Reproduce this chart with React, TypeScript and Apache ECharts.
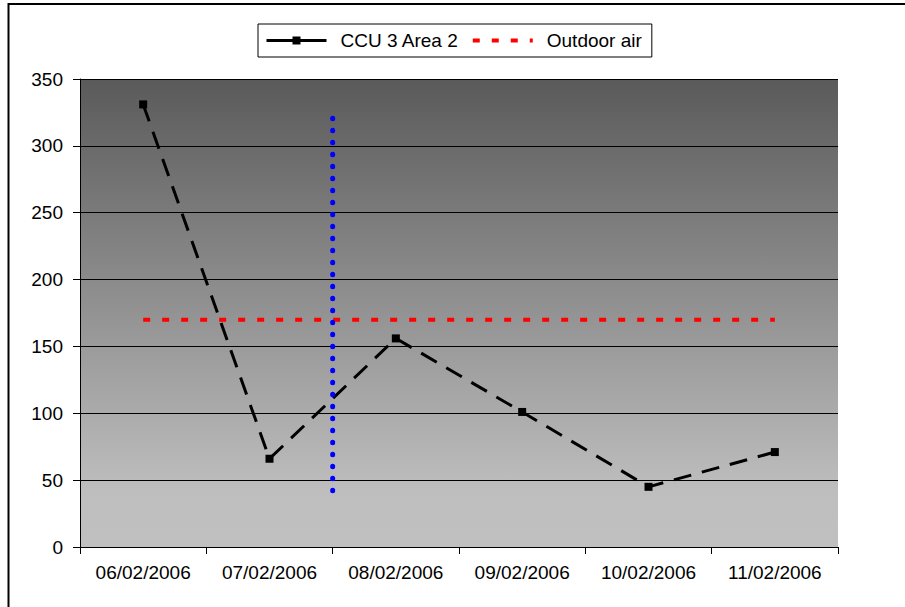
import React, { useEffect, useRef } from "react";
import * as echarts from "echarts";

const categories = ["06/02/2006", "07/02/2006", "08/02/2006", "09/02/2006", "10/02/2006", "11/02/2006"];
const ccuValues = [331, 66, 156, 101, 45, 71];
const outdoorValues = [170, 170, 170, 170, 170, 170];
const markerLine = [[2, 42], [2, 323]];
const yTicks = { min: 0, max: 350, interval: 50 };

const FONT = "Liberation Sans, Arial, sans-serif";

export default function App() {
  const ref = useRef<HTMLDivElement>(null);
  useEffect(() => {
    if (!ref.current) return;
    const chart = echarts.init(ref.current, undefined, { renderer: "svg" });
    chart.setOption({
      animation: false,
      backgroundColor: "#ffffff",
      textStyle: { fontFamily: FONT },
      graphic: [
        {
          type: "rect",
          shape: { x: 8.5, y: 4, width: 2000, height: 2000 },
          style: { fill: "none", stroke: "#000", lineWidth: 2 },
          silent: true,
        },
      ],
      legend: {
        left: 258,
        top: 24,
        orient: "horizontal",
        backgroundColor: "#fff",
        borderColor: "#000",
        borderWidth: 1,
        padding: [7, 10, 7, 7],
        itemWidth: 60,
        itemHeight: 10,
        itemGap: 12,
        textStyle: { fontSize: 19, color: "#000", fontFamily: FONT, padding: [0, 0, 0, 9] },
        data: [
          {
            name: "CCU 3 Area 2",
            lineStyle: { type: "solid", width: 3, color: "#000" },
            itemStyle: { color: "#000" },
          },
          {
            name: "Outdoor air",
            lineStyle: { type: [7, 12], width: 4, color: "#ff0000", cap: "butt" },
            itemStyle: { color: "rgba(0,0,0,0)", borderWidth: 0, borderColor: "rgba(0,0,0,0)" },
          },
        ],
      },
      grid: {
        left: 80,
        right: 67,
        top: 79,
        bottom: 60,
        show: true,
        borderWidth: 0,
        backgroundColor: {
          type: "linear",
          x: 0,
          y: 0,
          x2: 0,
          y2: 1,
          colorStops: [
            { offset: 0, color: "#5a5a5a" },
            { offset: 0.88, color: "#bebebe" },
            { offset: 1, color: "#c0c0c0" },
          ],
        },
      },
      xAxis: [
        {
          type: "category",
          data: categories,
          boundaryGap: true,
          axisLine: { show: true, lineStyle: { color: "#000", width: 1 } },
          axisTick: { show: true, length: 7, alignWithLabel: false, lineStyle: { color: "#000" } },
          axisLabel: { fontSize: 19, color: "#000", margin: 16, fontFamily: FONT, interval: 0 },
          splitLine: { show: false },
        },
        {
          type: "value",
          min: 0,
          max: 6,
          show: false,
          splitLine: { show: false },
        },
      ],
      yAxis: {
        type: "value",
        min: yTicks.min,
        max: yTicks.max,
        interval: yTicks.interval,
        axisLine: { show: true, lineStyle: { color: "#000", width: 1 } },
        axisTick: { show: true, length: 7, lineStyle: { color: "#000" } },
        axisLabel: { fontSize: 19, color: "#000", margin: 17, fontFamily: FONT },
        splitLine: { show: true, lineStyle: { color: "#000", width: 1 } },
      },
      series: [
        {
          name: "CCU 3 Area 2",
          type: "line",
          data: ccuValues,
          symbol: "rect",
          symbolSize: 8,
          itemStyle: { color: "#000" },
          lineStyle: { color: "#000", width: 3, type: [18, 11] },
          z: 3,
        },
        {
          name: "Outdoor air",
          type: "line",
          data: outdoorValues,
          symbol: "none",
          itemStyle: { color: "#ff0000" },
          lineStyle: { color: "#ff0000", width: 4, type: [7, 12], cap: "butt" },
          z: 2,
        },
        {
          name: "marker",
          type: "line",
          xAxisIndex: 1,
          data: markerLine,
          symbol: "none",
          itemStyle: { color: "#0000ff" },
          lineStyle: { color: "#0000ff", width: 5, type: [0.5, 11.5], cap: "round" },
          z: 4,
        },
      ],
    });
    return () => chart.dispose();
  }, []);
  return (
    <div
      ref={ref}
      style={{ position: "absolute", left: 0, top: 0, width: 905, height: 607 }}
    />
  );
}
